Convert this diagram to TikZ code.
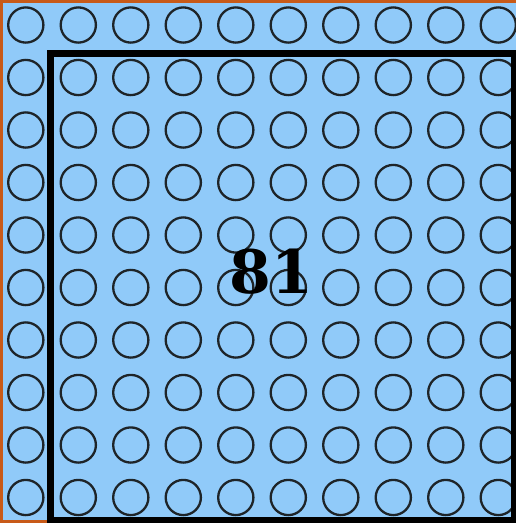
\documentclass[tikz,border=0pt]{standalone}
\usepackage{fontspec}
\newfontfamily\labelfont{DejaVu Serif}
\definecolor{bgblue}{HTML}{90CAF9}
\definecolor{frameorange}{HTML}{C85A18}
\definecolor{ringcol}{HTML}{1E2428}
\begin{document}
\begin{tikzpicture}[x=1pt,y=-1pt,
  ring/.style={draw=ringcol,line width=2.3pt},
  bigframe/.style={draw=black,line width=7pt},
  countlabel/.style={font=\labelfont\bfseries\fontsize{60}{60}\selectfont,text=black,inner sep=0pt}]
\useasboundingbox (0,0) rectangle (516,523);
\begin{scope}
\clip (0,0) rectangle (516,523);
\fill[bgblue] (0,0) rectangle (516,523);
\draw[frameorange,line width=5.5pt] (520,0) -- (0,0) -- (0,523) -- (100,523);
\foreach \i in {0,...,9}{
  \foreach \j in {0,...,9}{
    \draw[ring] ({25.8+52.5*\i},{25+52.5*\j}) circle (17.6);
  }
}
\draw[bigframe] (50.5,53.2) rectangle (514.5,520.5);
\end{scope}
\node[countlabel] (lbl) at (271,272) {81};
\end{tikzpicture}
\end{document}
